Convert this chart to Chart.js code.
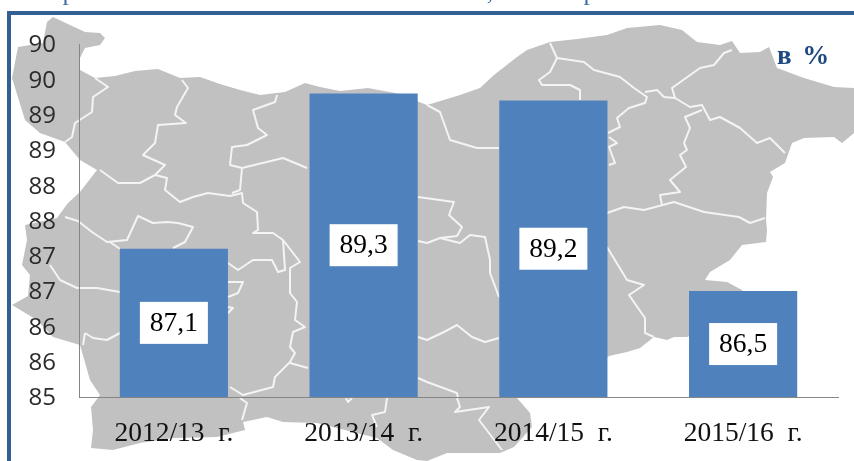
<!DOCTYPE html>
<html lang="bg">
<head>
<meta charset="utf-8">
<title>Chart</title>
<style>html,body{margin:0;padding:0;background:#fff;overflow:hidden}canvas{display:block}</style>
<script src="https://cdn.jsdelivr.net/npm/chart.js@4"></script>
</head>
<body>
<canvas id="c" width="854" height="461"></canvas>
<script>
const categories = ["2012/13\u00A0\u00A0г.", "2013/14\u00A0\u00A0г.", "2014/15\u00A0\u00A0г.", "2015/16\u00A0\u00A0г."];
const values = [87.1, 89.3, 89.2, 86.5];
const valueLabels = ["87,1", "89,3", "89,2", "86,5"];
const yTickLabels = ["85","86","86","87","87","88","88","89","89","90","90"];
const unitLabel = "в %";

// Decorative background map (not data)
const mapOutline = [[47,22],[53,17],[70,25],[85,32],[100,33],[105,38],[100,45],[85,48],[80,58],[80,70],[95,78],[115,76],[135,71],[158,69],[180,78],[200,77],[220,84],[240,90],[260,95],[285,92],[305,83],[320,87],[340,91],[368,88],[395,93],[427,105],[437,102],[460,95],[480,88],[494,75],[517,57],[527,50],[550,42],[577,39],[607,35],[627,28],[660,25],[682,30],[697,42],[720,45],[732,41],[740,53],[760,52],[769,47],[777,68],[804,78],[834,87],[854,88],[854,133],[842,143],[834,137],[804,138],[792,143],[785,163],[770,172],[773,177],[767,193],[766,220],[767,230],[766,242],[742,245],[730,260],[710,272],[705,280],[727,282],[742,290],[750,310],[687,337],[674,337],[667,340],[654,337],[640,348],[627,352],[609,356],[570,380],[517,398],[530,413],[532,427],[514,447],[500,453],[447,453],[427,461],[417,460],[393,450],[377,438],[317,423],[283,422],[267,417],[243,422],[245,430],[217,437],[173,438],[140,443],[113,450],[91,448],[93,430],[91,407],[100,395],[90,380],[80,345],[53,337],[37,320],[12,305],[28,296],[30,275],[22,265],[27,240],[25,225],[57,218],[68,203],[80,192],[97,170],[80,160],[65,142],[40,133],[25,120],[12,78],[18,47],[43,43]];
const mapBorders = [
 [[95,78],[108,87],[93,97],[92,112],[75,123],[72,137],[65,142]],
 [[182,80],[188,88],[177,107],[175,115],[186,123],[158,125],[155,143],[143,155],[165,165],[155,175],[167,178],[165,190],[180,202],[193,197],[208,193],[230,196],[242,193],[243,203],[257,212],[258,230],[253,233],[273,233],[283,240],[300,262],[290,268],[290,293],[297,302],[295,320],[305,327],[293,332],[290,347],[295,353],[290,362],[275,377],[273,387],[243,395],[230,387]],
 [[100,170],[118,183],[140,183],[155,175]],
 [[277,95],[275,102],[253,110],[258,128],[267,135],[247,145],[232,147],[230,165],[242,168],[240,190],[232,193]],
 [[242,168],[283,158],[307,168]],
 [[65,217],[78,221],[92,232],[107,242],[127,240],[133,227],[138,216],[153,223],[167,222],[178,223],[193,227],[185,242],[173,248]],
 [[110,242],[120,249]],
 [[50,265],[60,280],[77,288],[97,288],[120,292]],
 [[85,333],[83,345]],[[85,333],[93,338],[107,340],[120,333]],
 [[228,263],[238,270],[253,260],[272,260],[278,272],[285,270],[283,240]],
 [[228,282],[243,282],[238,293],[228,297]],
 [[228,307],[233,308],[228,313]],
 [[290,363],[308,368]],
 [[240,398],[247,403],[242,420]],
 [[346,398],[348,402],[352,398]],
 [[387,398],[385,412],[372,415],[377,427]],
 [[457,398],[460,407],[455,412],[489,407],[479,420],[492,437],[502,450]],
 [[550,43],[557,58],[550,72],[539,80],[542,85],[570,85],[580,90],[580,100]],
 [[557,58],[584,62],[594,70],[620,77],[634,88],[647,97],[645,103],[629,108],[617,118],[620,127],[608,133]],
 [[645,92],[657,90],[664,97],[675,98],[690,107],[702,105],[710,120],[720,117],[740,128],[757,143],[770,138],[785,153]],
 [[732,50],[724,53],[714,65],[700,68],[672,88],[675,98]],
 [[702,110],[685,117],[690,128],[684,143],[687,150],[680,155],[686,167],[670,180],[680,192],[660,195],[662,205]],
 [[607,213],[624,207],[644,210],[674,202],[704,212],[739,217],[750,223],[765,218]],
 [[427,105],[440,112],[450,140],[477,148],[499,148]],
 [[418,197],[454,202],[449,215],[462,227],[457,236],[440,238],[427,243],[418,241]],
 [[440,238],[460,243],[470,235],[485,237],[490,260],[490,273],[499,297]],
 [[607,247],[627,280],[644,285],[629,295],[645,318],[645,333],[654,337]],
 [[418,337],[427,340],[444,332],[457,325],[472,337],[485,342],[499,338]],
 [[418,378],[427,382],[457,393],[458,398]],
 [[609,137],[617,143],[609,147],[612,155],[615,163],[609,165]]
];
// Letter tails of the cropped line above the frame
const croppedTitle = [["р",69],[",",490],["р",590]];

const backdrop = {
  id: 'backdrop',
  beforeDraw(chart) {
    const g = chart.ctx;
    g.save();
    g.fillStyle = '#ffffff';
    g.fillRect(0, 0, 854, 461);
    g.beginPath();
    mapOutline.forEach((p, i) => i ? g.lineTo(p[0], p[1]) : g.moveTo(p[0], p[1]));
    g.closePath();
    g.fillStyle = '#c1c1c1';
    g.fill();
    g.strokeStyle = '#f4f4f4';
    g.lineWidth = 2;
    g.lineJoin = 'round';
    mapBorders.forEach(line => {
      g.beginPath();
      line.forEach((p, i) => i ? g.lineTo(p[0], p[1]) : g.moveTo(p[0], p[1]));
      g.stroke();
    });
    g.fillStyle = '#336092';
    g.fillRect(7, 11, 847, 4);
    g.fillRect(7, 11, 4, 450);
    g.fillStyle = '#3f6fa8';
    g.font = '26px "Liberation Serif"';
    g.textAlign = 'center';
    g.textBaseline = 'alphabetic';
    croppedTitle.forEach(t => g.fillText(t[0], t[1], 0));
    g.restore();
    // Nudge the y tick labels so the digits centre on their tick positions
    chart.scales.y.getLabelItems(chart.chartArea).forEach(item => {
      if (!item.nudged) { item.options.translation[1] += 1.5; item.nudged = true; }
    });
  }
};

const overlays = {
  id: 'overlays',
  afterDraw(chart) {
    const g = chart.ctx;
    const xs = chart.scales.x, ys = chart.scales.y;
    g.save();
    g.textAlign = 'center';
    g.textBaseline = 'middle';
    g.font = '27.5px "Liberation Serif"';
    values.forEach((v, i) => {
      const cx = xs.getPixelForValue(i);
      const cy = (ys.getPixelForValue(v) + ys.bottom) / 2;
      g.fillStyle = '#ffffff';
      g.fillRect(cx - 34, cy - 21, 68, 42);
      g.fillStyle = '#000000';
      g.fillText(valueLabels[i], cx, cy + 1);
    });
    g.fillStyle = '#1f4a80';
    g.font = 'bold 27px "Liberation Serif"';
    g.textAlign = 'left';
    g.textBaseline = 'alphabetic';
    g.letterSpacing = '2px';
    g.fillText(unitLabel, 777, 64);
    g.restore();
  }
};

new Chart(document.getElementById('c'), {
  type: 'bar',
  data: {
    labels: categories,
    datasets: [{ data: values, backgroundColor: '#4f81bd', borderWidth: 0, barPercentage: 0.57, categoryPercentage: 1 }]
  },
  options: {
    responsive: false,
    animation: false,
    layout: { padding: { top: 44, right: 16, left: 0, bottom: 0 } },
    plugins: { legend: { display: false }, tooltip: { enabled: false }, title: { display: false } },
    scales: {
      x: {
        grid: { display: false },
        border: { color: '#868686', width: 1 },
        afterFit(s) { s.height = 64; },
        ticks: { color: '#111', padding: 12, maxRotation: 0, autoSkip: false, font: { family: '"Liberation Serif"', size: 27.5 } }
      },
      y: {
        min: 85, max: 90,
        grid: { display: false },
        border: { color: '#868686', width: 1 },
        afterFit(s) { s.width = 79; },
        ticks: {
          stepSize: 0.5, autoSkip: false, padding: 15, color: '#2b2b2b',
          font: { family: '"Open Sans"', size: 24 },
          callback: (v, i) => yTickLabels[i]
        }
      }
    }
  },
  plugins: [backdrop, overlays]
});
</script>
</body>
</html>
